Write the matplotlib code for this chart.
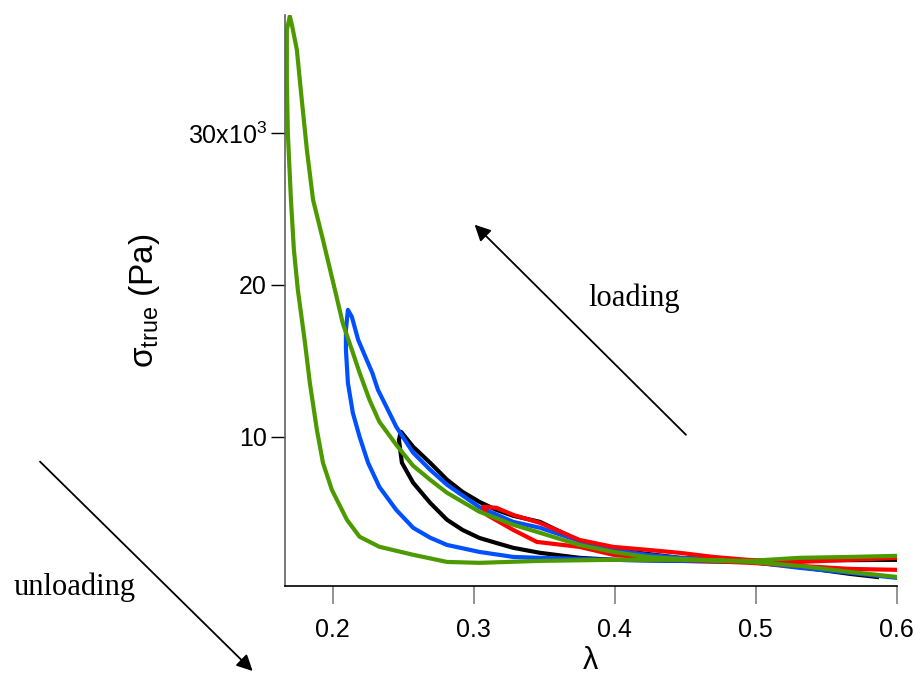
import numpy as np
import matplotlib.pyplot as plt

plt.rcParams["font.family"] = ["Liberation Sans", "DejaVu Sans"]
plt.rcParams["mathtext.fontset"] = "custom"
plt.rcParams["mathtext.rm"] = "Liberation Sans"
plt.rcParams["mathtext.it"] = "Liberation Sans:italic"
plt.rcParams["mathtext.sf"] = "Liberation Sans"

# each loop: loading branch (lambda = 0.6 -> peak), then unloading branch (peak -> 0.6)
green_lam = [0.600, 0.567, 0.531, 0.496, 0.446, 0.423, 0.399, 0.375, 0.347, 0.328,
             0.304, 0.281, 0.269, 0.257, 0.245, 0.233, 0.226, 0.219, 0.2135, 0.207,
             0.2015, 0.193, 0.186, 0.1816, 0.178, 0.1745, 0.171, 0.1695,
             0.1674, 0.1674, 0.1681, 0.1703, 0.1724, 0.1752, 0.180, 0.1837, 0.1887,
             0.193, 0.1993, 0.210, 0.219, 0.233, 0.257, 0.281, 0.304, 0.347, 0.399,
             0.446, 0.496, 0.531, 0.567, 0.600]
green_sig = [740, 1070, 1470, 1730, 1930, 2060, 2390, 2850, 3650, 4180,
             5040, 6290, 7150, 8070, 9450, 10970, 12420, 14200, 15720, 17490,
             19670, 22970, 25600, 28900, 32190, 35490, 37140, 37700,
             36810, 33510, 30010, 25600, 22310, 19670, 16370, 13540, 10440,
             8270, 6490, 4510, 3390, 2730, 2200, 1730, 1670, 1800, 1870,
             1870, 1800, 2000, 2060, 2130]

blue_lam = [0.600, 0.531, 0.496, 0.446, 0.423, 0.399, 0.375, 0.347, 0.328, 0.304,
            0.281, 0.269, 0.257, 0.245, 0.238, 0.232, 0.228, 0.224, 0.218, 0.2135,
            0.2107,
            0.2093, 0.2093, 0.2107, 0.2142, 0.219, 0.225, 0.233, 0.245, 0.257,
            0.269, 0.281, 0.304, 0.328, 0.347, 0.399, 0.446, 0.496, 0.531, 0.567,
            0.600]
blue_sig = [2000, 1870, 1800, 2000, 2200, 2530, 3110, 3980, 4370, 5340,
            6820, 7810, 8930, 10640, 11960, 13080, 14200, 15060, 16370, 17890,
            18350,
            17030, 15720, 13540, 11560, 9980, 8270, 6680, 5160, 3980,
            3330, 2850, 2390, 2060, 2000, 1870, 1800, 1730, 1340, 1010,
            680]

black_lam = [0.600, 0.496, 0.446, 0.399, 0.375, 0.347, 0.328, 0.316, 0.304, 0.292,
             0.281, 0.269, 0.257, 0.249, 0.2483,
             0.2469, 0.249, 0.257, 0.269, 0.281, 0.292, 0.304, 0.316, 0.328, 0.347,
             0.375, 0.399, 0.446, 0.496, 0.531, 0.567, 0.586]
black_sig = [1870, 1800, 2000, 2530, 3110, 4370, 4770, 5160, 5690, 6350,
             7150, 8270, 9320, 10240, 10310,
             9780, 8270, 6950, 5630, 4510, 3840, 3310, 2980, 2660, 2330,
             2000, 1870, 1800, 1730, 1400, 940, 740]

red_lam = [0.600, 0.567, 0.531, 0.494, 0.470, 0.446, 0.423, 0.399, 0.375, 0.347,
           0.328, 0.316, 0.3064,
           0.3093, 0.328, 0.3447, 0.375, 0.399, 0.423, 0.446, 0.496, 0.531, 0.567,
           0.600]
red_sig = [2000, 1870, 1730, 1870, 2060, 2330, 2530, 2720, 3180, 4300,
           4830, 5300, 5360,
           4830, 3840, 3050, 2720, 2200, 2000, 1870, 1670, 1470, 1270,
           1210]

ytick_vals = [10000, 20000, 30000]
ytick_labels = ["10", "20", "30x10$^{3}$"]
xtick_vals = [0.2, 0.3, 0.4, 0.5, 0.6]

fig = plt.figure(figsize=(9.16, 6.75), dpi=100)
ax = fig.add_axes([0.311, 0.132, 0.668, 0.846])

lw = 3.0
ax.plot(black_lam, black_sig, color="black", lw=lw, solid_joinstyle="round")
ax.plot(blue_lam, blue_sig, color="#0050ff", lw=lw, solid_joinstyle="round")
ax.plot(red_lam, red_sig, color="#ff0000", lw=lw, solid_joinstyle="round")
ax.plot(green_lam, green_sig, color="#4c9a00", lw=lw, solid_joinstyle="round",
        solid_capstyle="round")

ax.set_xlim(0.166, 0.6)
ax.set_ylim(150, 37800)

ax.set_xticks(xtick_vals)
ax.set_xticklabels([f"{v:.1f}" for v in xtick_vals])
ax.set_yticks(ytick_vals)
ax.set_yticklabels(ytick_labels)

for s in ["top", "right"]:
    ax.spines[s].set_visible(False)
ax.spines["left"].set_color("#606060")
ax.spines["left"].set_linewidth(1.2)
ax.spines["bottom"].set_linewidth(1.2)

ax.tick_params(axis="x", length=13, width=1.2, color="#808080", labelsize=18, pad=10)
ax.tick_params(axis="y", length=10, width=1.0, color="black", labelsize=18, pad=3)

ax.set_xlabel("λ", fontsize=22, labelpad=3)
ax.set_ylabel(r"σ$_{\mathregular{true}}$ (Pa)", fontsize=24)
ax.yaxis.set_label_coords(-0.2, 0.5)

arrow = dict(arrowstyle="-|>", lw=1.3, color="black", mutation_scale=24)
ax.annotate("", xy=(0.516, 0.670), xytext=(0.751, 0.353),
            xycoords="figure fraction", textcoords="figure fraction", arrowprops=arrow)
ax.annotate("", xy=(0.278, 0.003), xytext=(0.0415, 0.319),
            xycoords="figure fraction", textcoords="figure fraction", arrowprops=arrow,
            annotation_clip=False)

fig.text(0.692, 0.558, "loading", fontsize=22, family="Liberation Serif",
         ha="center", va="center")
fig.text(0.081, 0.130, "unloading", fontsize=22, family="Liberation Serif",
         ha="center", va="center")

fig.savefig("out.png", dpi=100)
